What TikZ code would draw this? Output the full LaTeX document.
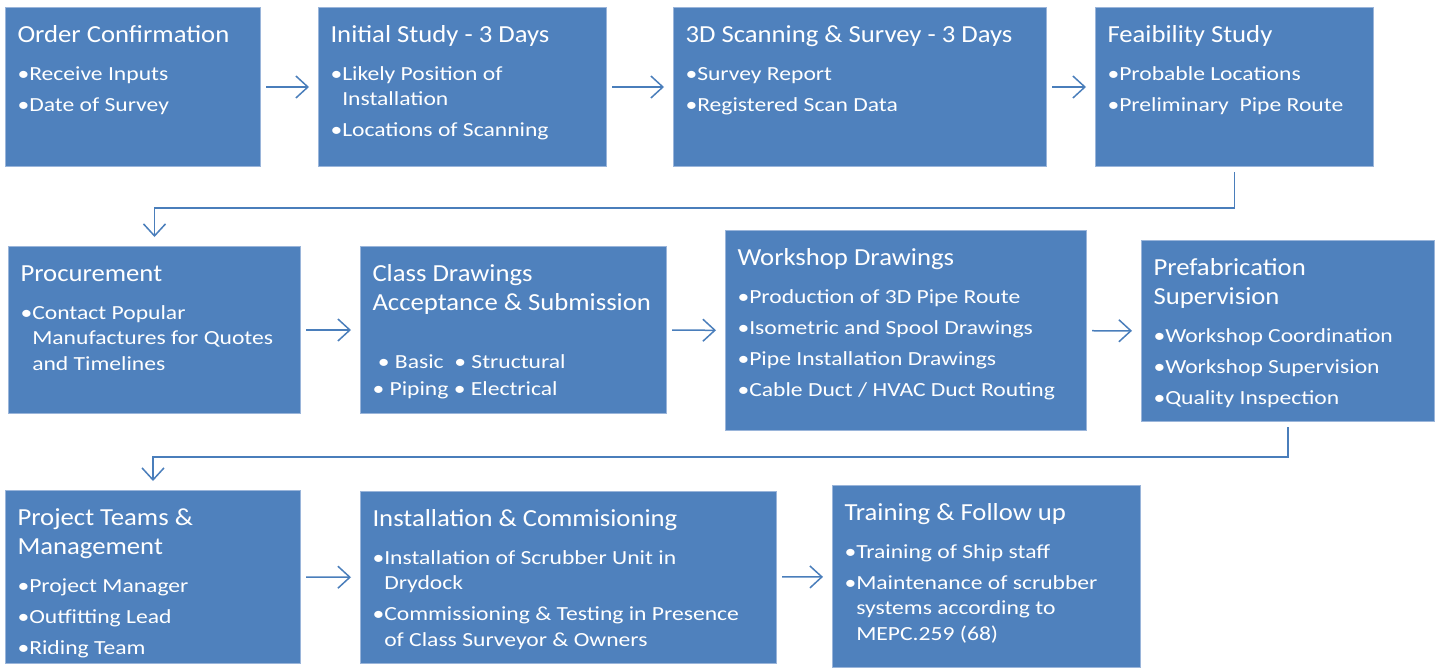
\documentclass[tikz,border=0pt]{standalone}
\usepackage{fontspec}
\setmainfont{Carlito}
\newfontfamily\stagebodyfont{Carlito}[FakeStretch=1.18]
\newfontfamily\stageheadfont{Carlito}[FakeStretch=1.09]
\usepackage{tikz}
\usetikzlibrary{arrows.meta}
\definecolor{boxblue}{HTML}{4F81BD}
\definecolor{boxedge}{HTML}{9AB5DA}
\definecolor{linkblue}{HTML}{4A7EBB}
\newlength{\bulletwd}
\newcommand{\stagebox}[3]{\parbox[c][#2][t]{#1}{\raggedright\stagebodyfont\fontsize{20}{25.5}\selectfont #3}}
\newcommand{\stagehead}[1]{{\stageheadfont\fontsize{24.5}{29}\selectfont\rule{0pt}{18pt}#1\par}\vspace{12pt}}
\newcommand{\stageitem}[1]{\settowidth{\bulletwd}{\textbullet}\noindent\hangindent=\bulletwd\hangafter=1 \textbullet#1\par\vspace{5.5pt}}

\begin{document}
\begin{tikzpicture}[x=1pt,y=-1pt,
	stage/.style={draw=boxedge,fill=boxblue,text=white,anchor=north west,inner xsep=12pt,inner ysep=17pt,line width=1pt},
	flow/.style={draw=linkblue,line width=1.5pt,-{Straight Barb[length=12pt,width=22pt]},shorten <=5pt,shorten >=9pt}]
			\useasboundingbox (0,0) rectangle (1438,667);
			\node[stage] (order) at (5,7) {\stagebox{231pt}{125pt}{\stagehead{Order Confirmation}\stageitem{Receive Inputs}\stageitem{Date of Survey}}};
			\node[stage] (initial) at (318,7) {\stagebox{264pt}{125pt}{\stagehead{Initial Study - 3 Days}\stageitem{Likely Position of\newline Installation}\stageitem{Locations of Scanning}}};
			\node[stage] (scan) at (673,7) {\stagebox{349pt}{125pt}{\stagehead{3D Scanning \& Survey - 3 Days}\stageitem{Survey Report}\stageitem{Registered Scan Data}}};
			\node[stage] (feas) at (1095,7) {\stagebox{254pt}{125pt}{\stagehead{Feaibility Study}\stageitem{Probable Locations}\stageitem{Preliminary\ \ Pipe Route}}};
			\node[stage] (proc) at (8,246) {\stagebox{268pt}{133pt}{\stagehead{Procurement}\stageitem{Contact Popular\newline Manufactures for Quotes\newline and Timelines}}};
			\node[stage] (classdw) at (360,246) {\stagebox{282pt}{133pt}{{\stageheadfont\fontsize{24.5}{29}\selectfont\rule{0pt}{18pt}Class Drawings\newline Acceptance \& Submission\par}\vspace{31pt}\fontsize{20}{27}\selectfont\ \textbullet\ Basic\ \ \textbullet\ Structural\newline \ \textbullet\ Piping \textbullet\ Electrical\par}};
			\node[stage] (workshop) at (725,230) {\stagebox{337pt}{166pt}{\stagehead{Workshop Drawings}\stageitem{Production of 3D Pipe Route}\stageitem{Isometric and Spool Drawings}\stageitem{Pipe Installation Drawings}\stageitem{Cable Duct / HVAC Duct Routing}}};
			\node[stage] (prefab) at (1141,240) {\stagebox{269pt}{147pt}{\stagehead{Prefabrication\newline Supervision}\stageitem{Workshop Coordination}\stageitem{Workshop Supervision}\stageitem{Quality Inspection}}};
			\node[stage] (team) at (5,490) {\stagebox{271pt}{139pt}{\stagehead{Project Teams \&\newline Management}\stageitem{Project Manager}\stageitem{Outfitting Lead}\stageitem{Riding Team}}};
			\node[stage] (install) at (360,491) {\stagebox{392pt}{138pt}{\stagehead{Installation \& Commisioning}\stageitem{Installation of Scrubber Unit in\newline Drydock}\stageitem{Commissioning \& Testing in Presence\newline of Class Surveyor \& Owners}}};
			\node[stage] (train) at (832,485) {\stagebox{284pt}{148pt}{\stagehead{Training \& Follow up}\stageitem{Training of Ship staff}\stageitem{Maintenance of scrubber\newline systems according to\newline MEPC.259 (68)}}};
			\draw[flow] (order) -- (initial);
			\draw[flow] (initial) -- (scan);
			\draw[flow] (scan) -- (feas);
			\draw[flow] (feas.south) -- ++(0,41) -| (proc.north);
			\draw[flow] (proc) -- (classdw);
			\draw[flow] (classdw) -- (workshop);
			\draw[flow] (workshop) -- (prefab);
			\draw[flow] (prefab.south) -- ++(0,35) -| (team.north);
			\draw[flow] (team) -- (install);
			\draw[flow] (install) -- (train);
\end{tikzpicture}
\end{document}
